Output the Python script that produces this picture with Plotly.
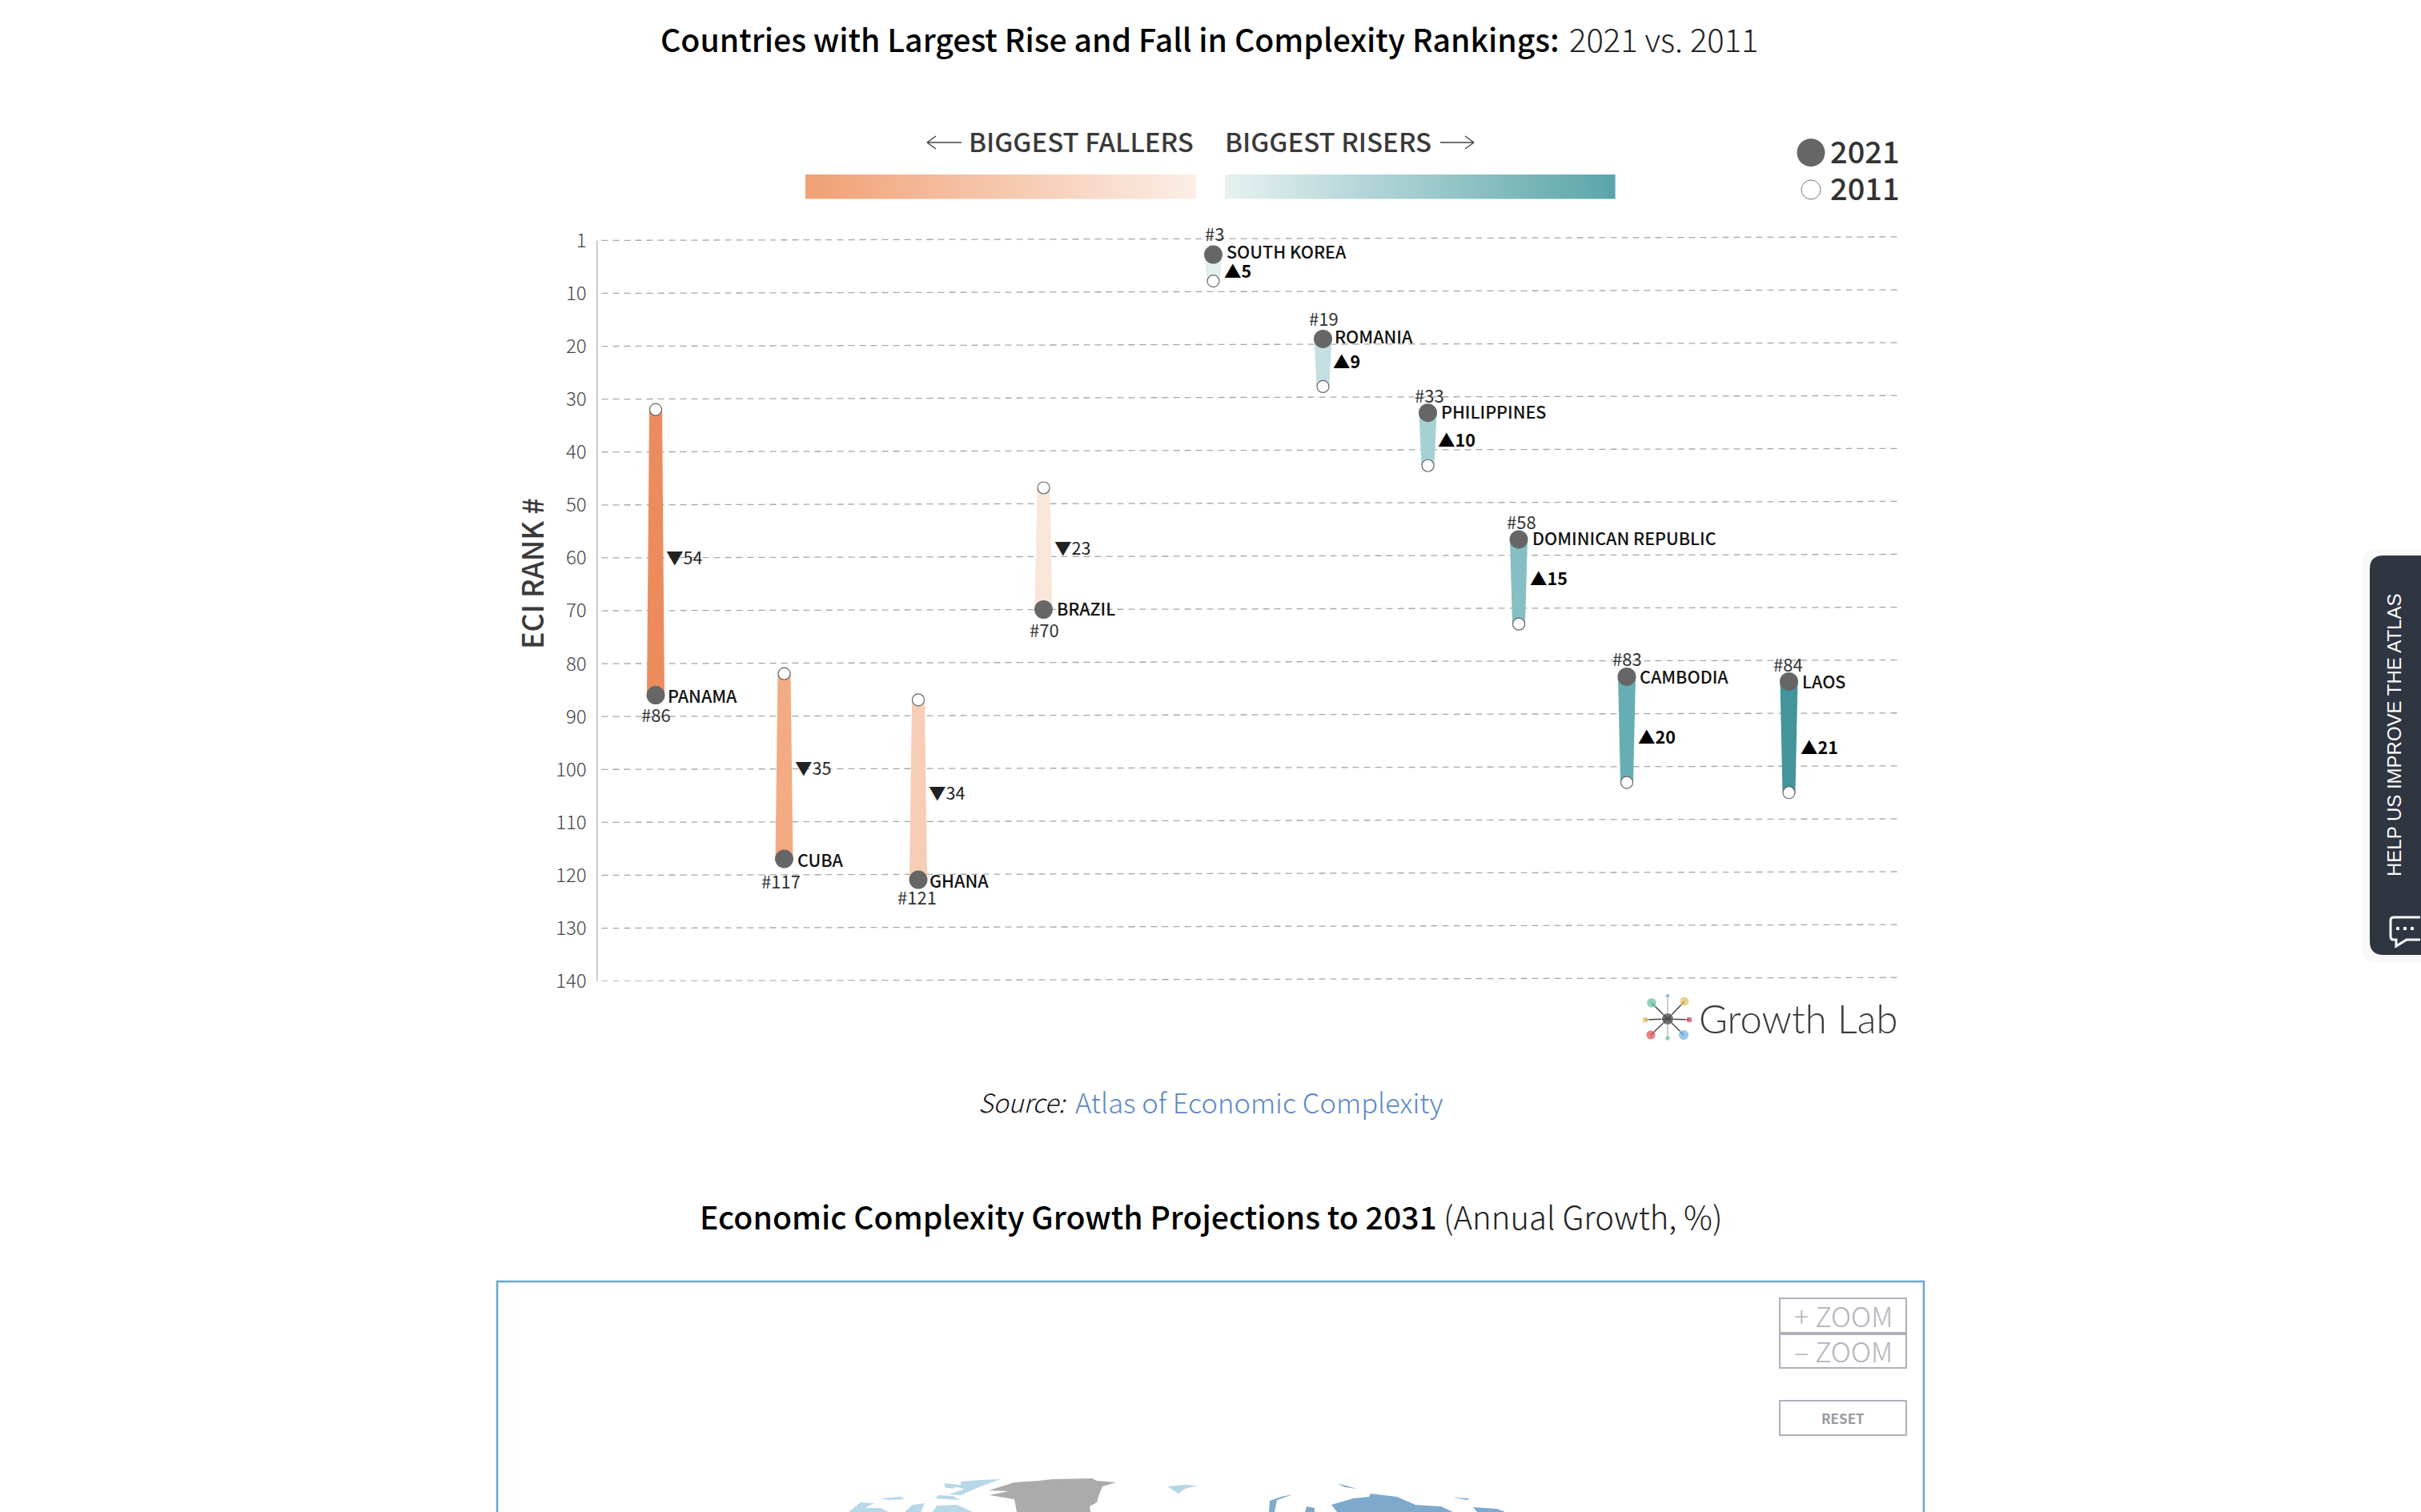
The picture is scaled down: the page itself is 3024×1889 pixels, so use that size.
import plotly.graph_objects as go

# ---------- data ----------
countries = ["PANAMA", "CUBA", "GHANA", "BRAZIL", "SOUTH KOREA", "ROMANIA",
             "PHILIPPINES", "DOMINICAN REPUBLIC", "CAMBODIA", "LAOS"]
rank_2021_label = [86, 117, 121, 70, 3, 19, 33, 58, 83, 84]   # the printed ranks
rank_2011_label = [32, 82, 87, 47, 8, 28, 43, 73, 103, 105]
rank_2021 = [86, 117, 121, 70, 3, 19, 33, 57, 83, 84]         # where the picture draws them
rank_2011 = [32, 82, 87, 47, 8, 28, 43, 73, 103, 105]
x_slot = [73.5, 234, 401.5, 558, 770, 907, 1038, 1151.5, 1286.5, 1489]
bar_colors = ["#EC8C5E", "#F3AB82", "#F7CDB6", "#F9E6DB", "#E3EFEF",
              "#C5DFE2", "#A6D1D3", "#85BFC4", "#66AEB4", "#43949B"]
tick_values = [0, 10, 20, 30, 40, 50, 60, 70, 80, 90, 100, 110, 120, 130, 140]
tick_labels = ["1", "10", "20", "30", "40", "50", "60", "70", "80", "90",
               "100", "110", "120", "130", "140"]

# ---------- layout constants ----------
W, H = 3024, 1889
FONT = "Noto Sans CJK SC"
AX_L, AX_R, AX_T, AX_B = 745.5, 2372.0, 300.4, 1225.7
HEADROOM = 5           # extra rank units above the top gridline, so its tilted end is not cropped
TILT = 0.68            # the source picture rises slightly to the right (in rank units)
BAR_W_NEW, BAR_W_OLD = 22, 16
name_off = [(13, 0), (14, 0), (12, 0), (14, -2), (14, -5), (12, -4), (14, -2), (15, -2), (14, -1), (14, -1)]
rank_off = [(0, 23), (-4, 27), (-2, 21), (1, 24), (1, -27), (1, -26), (2, -23), (3, -23), (0, -23), (-1, -22)]
delta_off = [(11, 5), (11, 1), (11, 3), (11, -2), (11, 3), (10, -3), (10, 0), (12, -9), (12, 8), (12, 12)]

span = AX_R - AX_L
px_per_rank = (AX_B - AX_T) / 140
top_px = AX_T - HEADROOM * px_per_rank


def tilted(x, rank):
    return rank - TILT * x / span


fig = go.Figure()

# gridlines
for t in tick_values:
    fig.add_trace(go.Scatter(x=[6, span - 2], y=[tilted(6, t), tilted(span - 2, t)], mode="lines",
                             line=dict(color="#A8A8A8", width=1.3, dash="8px,6px"),
                             hoverinfo="skip", showlegend=False))

# vertical axis line
fig.add_trace(go.Scatter(x=[0, 0], y=[tick_values[0], tick_values[-1]], mode="lines", cliponaxis=False,
                         line=dict(color="#777777", width=1.5), hoverinfo="skip", showlegend=False))

# tapered bars
for i, c in enumerate(countries):
    x = x_slot[i]
    a, b = tilted(x, rank_2021[i]), tilted(x, rank_2011[i])
    fig.add_trace(go.Scatter(
        x=[x - BAR_W_NEW / 2, x + BAR_W_NEW / 2, x + BAR_W_OLD / 2, x - BAR_W_OLD / 2, x - BAR_W_NEW / 2],
        y=[a, a, b, b, a], mode="lines", fill="toself", fillcolor=bar_colors[i],
        line=dict(width=0), name=c, showlegend=False, hoverinfo="skip"))

# end points
fig.add_trace(go.Scatter(
    x=x_slot, y=[tilted(x, r) for x, r in zip(x_slot, rank_2011)], mode="markers", name="2011",
    marker=dict(size=15, color="white", line=dict(color="#666666", width=1.2)), showlegend=False))
fig.add_trace(go.Scatter(
    x=x_slot, y=[tilted(x, r) for x, r in zip(x_slot, rank_2021)], mode="markers", name="2021",
    marker=dict(size=23, color="#666666"), showlegend=False))

ann = []


def page_text(x, y, text, size, color="#333333", weight=400, anchor="center", style="normal",
              angle=0, family=FONT):
    ann.append(dict(xref="x2", yref="y2", x=x, y=y, text=text, showarrow=False, xanchor=anchor,
                    yanchor="middle", textangle=angle,
                    font=dict(family=family, size=size, color=color, weight=weight, style=style)))


# country labels
for i, c in enumerate(countries):
    x = x_slot[i]
    ya = tilted(x, rank_2021[i])
    ann.append(dict(xref="x", yref="y", x=x, y=ya, text=c, showarrow=False, xanchor="left", yanchor="middle",
                    xshift=name_off[i][0], yshift=-name_off[i][1],
                    font=dict(family=FONT, size=21.5, color="#111111", weight=500)))
    ann.append(dict(xref="x", yref="y", x=x, y=ya, text="#%d" % rank_2021_label[i], showarrow=False,
                    xanchor="center", yanchor="middle", xshift=rank_off[i][0], yshift=-rank_off[i][1],
                    font=dict(family=FONT, size=22, color="#333333")))
    rose = rank_2021_label[i] < rank_2011_label[i]
    ym = tilted(x, (rank_2021_label[i] + rank_2011_label[i]) / 2)
    ann.append(dict(xref="x", yref="y", x=x, y=ym,
                    text=("▲" if rose else "▼") + str(abs(rank_2021_label[i] - rank_2011_label[i])),
                    showarrow=False, xanchor="left", yanchor="middle",
                    xshift=delta_off[i][0], yshift=-delta_off[i][1],
                    font=dict(family=FONT, size=21.5, color="#000000" if rose else "#222222",
                              weight=700 if rose else 400)))

# page text
page_text(1950, 48, "Countries with Largest Rise and Fall in Complexity Rankings:", 39.2, "#000000", 500, "right")
page_text(1958, 48, "2021 vs. 2011", 40, "#222222", 300, "left")
page_text(1797, 1519, "Economic Complexity Growth Projections to 2031", 39.2, "#000000", 500, "right")
page_text(1801, 1519, "(Annual Growth, %)", 40, "#222222", 300, "left")
page_text(1334, 1376, "Source:", 32, "#111111", 300, "right", "italic")
page_text(1341, 1376, "Atlas of Economic Complexity", 34.5, "#5B87C9", 300, "left")
page_text(1208, 176, "BIGGEST FALLERS", 33, "#3A3A3A", 500, "left")
page_text(1528, 176, "BIGGEST RISERS", 33, "#3A3A3A", 500, "left")
page_text(2284, 187, "2021", 38, "#333333", 500, "left")
page_text(2284, 233, "2011", 38, "#333333", 500, "left")
page_text(663, 717, "ECI RANK #", 36, "#3A3A3A", 500, "center", angle=-90)
page_text(2120, 1272, "Growth Lab", 49, "#3A3A3A", 300, "left", family="Lato")
page_text(2990, 919, "HELP US IMPROVE THE ATLAS", 24, "#FFFFFF", 400, "center", angle=-90,
          family="Liberation Sans")
page_text(2302, 1643, "+ ZOOM", 34.6, "#B4B4BC", 300)
page_text(2302, 1687, "– ZOOM", 34.6, "#B4B4BC", 300)
page_text(2302, 1771, "RESET", 17, "#9A9AA2", 700)


def over(**kw):
    return go.Scatter(xaxis="x2", yaxis="y2", showlegend=False, hoverinfo="skip", **kw)


# gradient strips
for x0, x1, y0, y1, scale in [
    (1006, 1494, 218, 248.6, [[0, "#F0A074"], [1, "#FCEEE6"]]),
    (1530, 2017.6, 218, 248.6, [[0, "#E6F1F1"], [1, "#5AA5AA"]]),
]:
    fig.add_trace(over(x=[x0, x1, x1, x0, x0], y=[y0, y0, y1, y1, y0], mode="lines", line=dict(width=0),
                       fill="toself", fillgradient=dict(type="horizontal", colorscale=scale)))

# legend dots
fig.add_trace(over(x=[2262], y=[190.7], mode="markers", marker=dict(size=35, color="#666666")))
fig.add_trace(over(x=[2262], y=[237], mode="markers",
                   marker=dict(size=24, color="white", line=dict(color="#777777", width=1))))

# Growth Lab logo
logo_x = [2083, 2063, 2104, 2055, 2110, 2062, 2083, 2103]
logo_y = [1244, 1253, 1251, 1274, 1274, 1293, 1297, 1293]
logo_d = [6, 12.5, 12, 8, 8, 12, 6.5, 13]
logo_c = ["#6EB0DC", "#65BD9C", "#E3BE5E", "#E0BF62", "#D9434B", "#DC4A4E", "#65BD9C", "#74B0DC"]
for lx, ly in zip(logo_x, logo_y):
    fig.add_trace(over(x=[2083, lx], y=[1273, ly], mode="lines",
                       line=dict(color="#BBBBBB" if lx == 2083 else "#444444", width=1.5)))
fig.add_trace(over(x=logo_x + [2083], y=logo_y + [1273], mode="markers",
                   marker=dict(size=logo_d + [15], color=logo_c + ["#444444"])))

# map fragment seen at the bottom of the page (coarse outlines)
map_parts = [
    ("#ABABAB", [(1235, 1862), (1267, 1852), (1297, 1850), (1315, 1848), (1364, 1847), (1370, 1850), (1394, 1852),
                 (1377, 1857), (1373, 1867), (1370, 1877), (1361, 1882), (1362, 1889), (1270, 1889), (1267, 1873),
                 (1236, 1868), (1260, 1863)]),
    ("#B6D8E8", [(1250, 1848), (1225, 1849), (1200, 1851), (1200, 1855), (1190, 1857), (1205, 1860), (1185, 1867),
                 (1200, 1868), (1225, 1857)]),
    ("#B6D8E8", [(1180, 1853), (1198, 1855), (1190, 1860), (1180, 1858)]),
    ("#B6D8E8", [(1168, 1872), (1200, 1874), (1190, 1869), (1172, 1868)]),
    ("#B6D8E8", [(1060, 1889), (1075, 1877), (1092, 1878), (1080, 1884), (1100, 1884), (1110, 1889)]),
    ("#B6D8E8", [(1165, 1889), (1170, 1881), (1195, 1880), (1215, 1889)]),
    ("#B6D8E8", [(1130, 1889), (1140, 1880), (1155, 1878), (1150, 1889)]),
    ("#B6D8E8", [(1100, 1872), (1125, 1870), (1130, 1873), (1110, 1874)]),
    ("#B6D8E8", [(1458, 1857), (1480, 1855), (1496, 1856), (1480, 1860), (1472, 1866)]),
    ("#7FA9CC", [(1670, 1889), (1663, 1880), (1690, 1872), (1710, 1870), (1712, 1866), (1745, 1870), (1768, 1880),
                 (1800, 1882), (1815, 1889)]),
    ("#7FA9CC", [(1585, 1889), (1586, 1875), (1600, 1870), (1615, 1867), (1595, 1874), (1592, 1889)]),
    ("#7FA9CC", [(1630, 1889), (1632, 1882), (1642, 1884), (1642, 1889)]),
    ("#7FA9CC", [(1670, 1853), (1685, 1857), (1695, 1860), (1680, 1858)]),
    ("#7FA9CC", [(1815, 1871), (1835, 1872), (1833, 1874)]),
    ("#7FA9CC", [(1840, 1883), (1870, 1885), (1880, 1889), (1845, 1889)]),
]
for color, pts in map_parts:
    fig.add_trace(over(x=[p[0] for p in pts] + [pts[0][0]], y=[p[1] for p in pts] + [pts[0][1]],
                       mode="lines", fill="toself", fillcolor=color, line=dict(width=0)))

dots = dict(x=[2995, 3004, 3013], y=[1160, 1160, 1160])
fig.add_trace(over(mode="markers", marker=dict(size=4.5, color="white"), **dots))

line = lambda p, c, w: dict(type="path", path=p, xref="x2", yref="y2", line=dict(color=c, width=w))
shapes = [
    line("M1201,178 L1158,178 M1158,178 L1169,170 M1158,178 L1169,186", "#444444", 1.5),
    line("M1799,178 L1841,178 M1841,178 L1830,170 M1841,178 L1830,186", "#444444", 1.5),
    line("M621,1900 L621,1601 L2403,1601 L2403,1900", "#6BA5CC", 2.5),
    # feedback tab shadow and body
    dict(type="path", xref="x2", yref="y2", line=dict(width=0), fillcolor="rgba(0,0,0,0.025)", layer="below",
         path="M3024,686 L2972,686 Q2950,686 2950,708 L2950,1185 Q2950,1203 2972,1203 L3024,1203 Z"),
    dict(type="path", xref="x2", yref="y2", line=dict(width=0), fillcolor="#2F3541", layer="below",
         path="M3024,694 L2977,694 Q2960,694 2960,711 L2960,1176 Q2960,1193 2977,1193 L3024,1193 Z"),
    line("M3023,1146 L2990,1146 Q2986,1146 2986,1150 L2986,1170 Q2986,1174 2990,1174 L2993,1174 L2993,1182 "
         "L3006,1174 L3023,1174", "#FFFFFF", 3),
]
for y0, y1 in [(1622, 1665), (1667, 1709), (1750, 1793)]:
    shapes.append(dict(type="rect", xref="x2", yref="y2", x0=2223, x1=2381, y0=y0, y1=y1,
                       line=dict(color="#B0B0BC", width=2), fillcolor="white", layer="below"))

fig.update_layout(
    width=W, height=H, margin=dict(l=0, r=0, t=0, b=0, autoexpand=False), paper_bgcolor="white",
    plot_bgcolor="rgba(0,0,0,0)",
    showlegend=False, annotations=ann, shapes=shapes,
    font=dict(family=FONT),
    xaxis=dict(domain=[AX_L / W, AX_R / W], range=[0, span], visible=False, fixedrange=True),
    yaxis=dict(domain=[1 - AX_B / H, 1 - top_px / H], range=[140, -HEADROOM], tickvals=tick_values,
               ticktext=tick_labels, showgrid=False, zeroline=False, showline=False,
               ticks="outside", ticklen=7, tickcolor="rgba(0,0,0,0)", anchor="x",
               tickfont=dict(family=FONT, size=24, color="#444444", weight=300), fixedrange=True),
    xaxis2=dict(domain=[0, 1], range=[0, W], visible=False, anchor="y2", fixedrange=True),
    yaxis2=dict(domain=[0, 1], range=[H, 0], visible=False, anchor="x2", fixedrange=True),
)

fig.write_html("out.html", config=dict(displayModeBar=False),
               post_script="document.body.style.margin='0';document.body.style.overflow='hidden';")
